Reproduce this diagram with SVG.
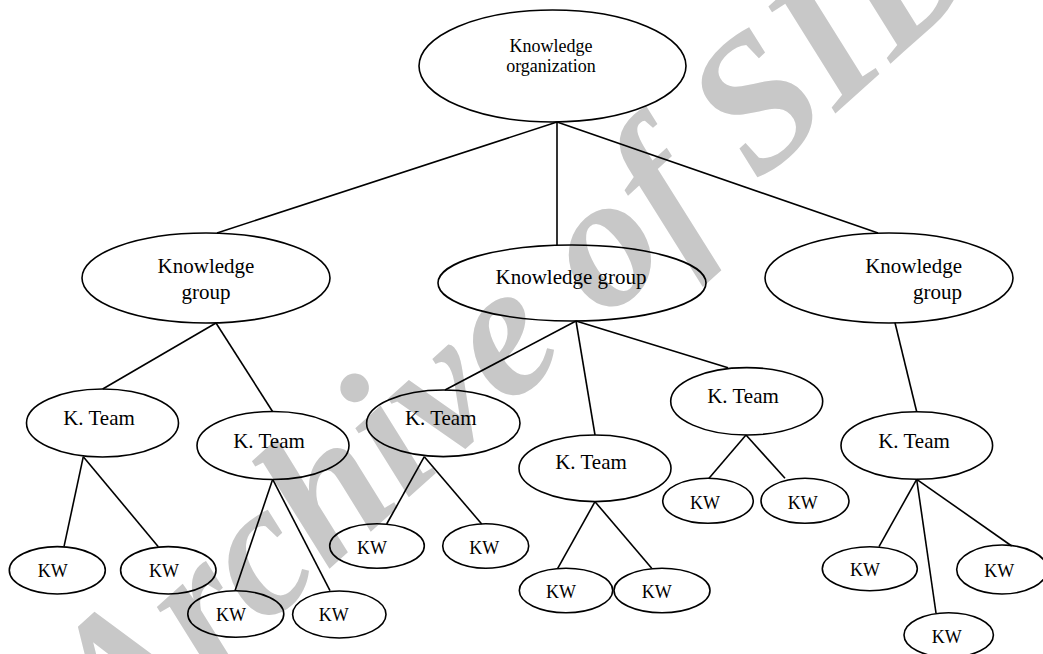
<svg xmlns="http://www.w3.org/2000/svg" width="1043" height="654" viewBox="0 0 1043 654">
<style>
.n ellipse{fill:none;stroke:#000;stroke-width:1.6}
.c line{stroke:#000;stroke-width:1.6}
.t{fill:#000;text-anchor:middle}
.s18{font-size:18px}
.s21{font-size:21px}
.wm{font-size:190px;font-style:italic;font-weight:bold;fill:#c8c8c8}
</style>
<rect width="1043" height="654" fill="#fff"/>
<g id="watermark" font-family="Liberation Serif, DejaVu Serif, serif">
<text class="wm" transform="translate(115,762) rotate(-42)">Archive of SID</text>
</g>
<g class="c" id="connectors">
<line x1="557" y1="122" x2="217" y2="233"/>
<line x1="557" y1="122" x2="557" y2="245"/>
<line x1="557" y1="122" x2="878" y2="233"/>
<line x1="216" y1="323" x2="102.7" y2="389"/>
<line x1="216" y1="323" x2="272.7" y2="411.7"/>
<line x1="576" y1="321" x2="445" y2="390"/>
<line x1="576" y1="321" x2="595" y2="435"/>
<line x1="576" y1="321" x2="728" y2="367.7"/>
<line x1="895" y1="322.7" x2="916.7" y2="411.7"/>
<line x1="83.3" y1="456.7" x2="64" y2="546.7"/>
<line x1="83.3" y1="456.7" x2="158.3" y2="546.7"/>
<line x1="272.7" y1="479.3" x2="235" y2="590.7"/>
<line x1="272.7" y1="479.3" x2="330" y2="590.7"/>
<line x1="424.3" y1="456.7" x2="386.7" y2="524"/>
<line x1="424.3" y1="456.7" x2="481.7" y2="524"/>
<line x1="595" y1="501.7" x2="557.7" y2="568.3"/>
<line x1="595" y1="501.7" x2="651.7" y2="568.3"/>
<line x1="746" y1="435" x2="709" y2="478.3"/>
<line x1="746" y1="435" x2="785" y2="478.3"/>
<line x1="916.7" y1="479.3" x2="879" y2="546.7"/>
<line x1="916.7" y1="479.3" x2="936" y2="613"/>
<line x1="916.7" y1="479.3" x2="1011.7" y2="546"/>
</g>
<g font-family="Liberation Serif, DejaVu Serif, serif">
<g class="n" id="org"><ellipse cx="552.5" cy="66" rx="133.5" ry="56"/><text class="t s18" x="551" y="52">Knowledge</text><text class="t s18" x="551" y="72">organization</text></g>
<g class="n" id="group-left"><ellipse cx="206" cy="278" rx="124" ry="45"/><text class="t s21" x="206" y="273">Knowledge</text><text class="t s21" x="206" y="299">group</text></g>
<g class="n" id="group-mid"><ellipse cx="572" cy="283" rx="134" ry="38"/><text class="t s21" x="571" y="284">Knowledge group</text></g>
<g class="n" id="group-right"><ellipse cx="889" cy="278" rx="124" ry="45"/><text class="t s21" x="962" y="273" style="text-anchor:end">Knowledge</text><text class="t s21" x="962" y="299" style="text-anchor:end">group</text></g>
<g class="n" id="team1"><ellipse cx="102.5" cy="423" rx="76" ry="34"/><text class="t s21" x="99" y="425">K. Team</text></g>
<g class="n" id="team2"><ellipse cx="273" cy="445.5" rx="76" ry="34"/><text class="t s21" x="269" y="447.7">K. Team</text></g>
<g class="n" id="team3"><ellipse cx="443.3" cy="423.3" rx="76.7" ry="33.3"/><text class="t s21" x="440.7" y="425">K. Team</text></g>
<g class="n" id="team4"><ellipse cx="595" cy="468.3" rx="76" ry="33.3"/><text class="t s21" x="591" y="469.3">K. Team</text></g>
<g class="n" id="team5"><ellipse cx="746.7" cy="401.3" rx="76" ry="33.7"/><text class="t s21" x="743" y="403.3">K. Team</text></g>
<g class="n" id="team6"><ellipse cx="916.8" cy="445.5" rx="75.8" ry="33.8"/><text class="t s21" x="914" y="447.7">K. Team</text></g>
<g class="n" id="kw1"><ellipse cx="57.3" cy="570.3" rx="48" ry="23.7"/><text class="t s18" x="52.7" y="576.7">KW</text></g>
<g class="n" id="kw2"><ellipse cx="168.3" cy="570.3" rx="47.7" ry="23.7"/><text class="t s18" x="164" y="576.7">KW</text></g>
<g class="n" id="kw3"><ellipse cx="235.8" cy="614" rx="48" ry="23.3"/><text class="t s18" x="231" y="620.7">KW</text></g>
<g class="n" id="kw4"><ellipse cx="339.3" cy="614.5" rx="46.7" ry="23.5"/><text class="t s18" x="333.8" y="620.7">KW</text></g>
<g class="n" id="kw5"><ellipse cx="377" cy="546" rx="47.3" ry="22.2"/><text class="t s18" x="372" y="553.5">KW</text></g>
<g class="n" id="kw6"><ellipse cx="485.7" cy="546" rx="43" ry="22.2"/><text class="t s18" x="484.3" y="553.5">KW</text></g>
<g class="n" id="kw7"><ellipse cx="566" cy="590.5" rx="46.7" ry="22.2"/><text class="t s18" x="561" y="598.3">KW</text></g>
<g class="n" id="kw8"><ellipse cx="662" cy="590.5" rx="48" ry="22.2"/><text class="t s18" x="656.7" y="598.3">KW</text></g>
<g class="n" id="kw9"><ellipse cx="708" cy="500.8" rx="45.3" ry="22.5"/><text class="t s18" x="705" y="509.3">KW</text></g>
<g class="n" id="kw10"><ellipse cx="805" cy="500.8" rx="44" ry="22.5"/><text class="t s18" x="802.7" y="509.3">KW</text></g>
<g class="n" id="kw11"><ellipse cx="869.8" cy="568.7" rx="47.5" ry="22"/><text class="t s18" x="865" y="576">KW</text></g>
<g class="n" id="kw12"><ellipse cx="948.7" cy="635" rx="44.7" ry="22.3"/><text class="t s18" x="946.7" y="642.7">KW</text></g>
<g class="n" id="kw13"><ellipse cx="1002" cy="569.5" rx="45.3" ry="24.5"/><text class="t s18" x="999.3" y="576.7">KW</text></g>
</g>
</svg>
